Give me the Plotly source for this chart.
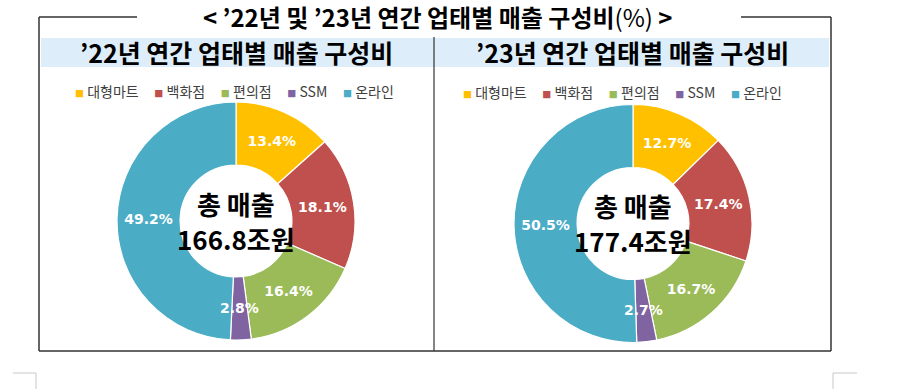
import math
import plotly.graph_objects as go

# ---- data ----
categories = ["대형마트", "백화점", "편의점", "SSM", "온라인"]
share_2022 = [13.4, 18.1, 16.4, 2.8, 49.2]
share_2023 = [12.7, 17.4, 16.7, 2.7, 50.5]
totals = [166.8, 177.4]
panel_titles = ["’22년 연간 업태별 매출 구성비", "’23년 연간 업태별 매출 구성비"]
main_title = "’22년 및 ’23년 연간 업태별 매출 구성비"
colors = ["#FFC000", "#C0504D", "#9BBB59", "#8064A2", "#4BACC6"]

W, H = 899, 389
KR = "Noto Sans CJK KR"
HOLE = 0.47
SMALL = 5.0  # slices below this share get a label placed on the ring middle


def px(x):
    return x / W


def py(y):
    return 1 - y / H


fig = go.Figure()
annotations = []


def text(x, y, s, size, color="black", family=KR):
    annotations.append(dict(x=px(x), y=py(y), xref="paper", yref="paper",
                            text=s, showarrow=False, xanchor="center", yanchor="middle",
                            font=dict(family=family, size=size, color=color)))


centers = [(236, 221), (633, 223.5)]
R = 119
for (cx, cy), vals in zip(centers, [share_2022, share_2023]):
    dom = dict(x=[px(cx - R), px(cx + R)], y=[py(cy + R), py(cy - R)])
    fig.add_trace(go.Pie(
        labels=categories, values=vals,
        textinfo="none",
        hole=HOLE, sort=False, direction="clockwise", rotation=0,
        marker=dict(colors=colors, line=dict(color="white", width=1.2)),
        domain=dom, showlegend=False, hoverinfo="skip",
    ))
    fig.add_trace(go.Pie(
        labels=categories, values=vals,
        text=[f"{v}%" if v >= SMALL else "" for v in vals],
        textinfo="text", textposition="inside",
        insidetextorientation="horizontal",
        textfont=dict(family="DejaVu Sans", size=14, color="white", weight="bold"),
        hole=HOLE, sort=False, direction="clockwise", rotation=0,
        marker=dict(colors=["rgba(0,0,0,0)"] * len(vals), line=dict(width=0)),
        domain=dom, showlegend=False, hoverinfo="skip",
    ))
    # small slice labels: on the middle of the ring, drawn over neighbours
    total = sum(vals)
    cum = 0.0
    rmid = R * (1 + HOLE) / 2
    for v in vals:
        if v < SMALL:
            ang = 2 * math.pi * (cum + v / 2) / total
            text(cx + rmid * math.sin(ang), cy - rmid * math.cos(ang),
                 f"<b>{v}%</b>", 14, color="white", family="DejaVu Sans")
        cum += v

shapes = []


def line(x0, y0, x1, y1, color="#333333", width=1.5):
    shapes.append(dict(type="line", xref="paper", yref="paper",
                       x0=px(x0), y0=py(y0), x1=px(x1), y1=py(y1),
                       line=dict(color=color, width=width)))


shapes.append(dict(type="rect", xref="paper", yref="paper",
                   x0=px(41), x1=px(829), y0=py(67), y1=py(38),
                   fillcolor="#DDEDF9", line=dict(width=0), layer="below"))
line(39, 17, 137, 17)
line(741, 17, 831, 17)
line(39, 17, 39, 351)
line(831, 17, 831, 351)
line(39, 351, 831, 351)
line(434, 37, 434, 351, width=1.2)
line(13, 373, 36, 373, color="#C8C8C8", width=1)
line(36, 373, 36, 389, color="#C8C8C8", width=1)
line(833, 373, 857, 373, color="#C8C8C8", width=1)
line(833, 373, 833, 389, color="#C8C8C8", width=1)

text(438, 17, f"<b>&lt; {main_title}</b>(%)<b> &gt;</b>", 24)
text(236, 52, f"<b>{panel_titles[0]}</b>", 25)
text(632, 52, f"<b>{panel_titles[1]}</b>", 25)

legend_html = "&nbsp;&nbsp;&nbsp;&nbsp;&nbsp;".join(
    f"<span style='color:{c};font-size:9px'>■</span>&nbsp;{cat}"
    for cat, c in zip(categories, colors)
)
text(235, 91, legend_html, 14, color="#404040")
text(622, 92, legend_html, 14, color="#404040")

for (cx, cy), tot in zip(centers, totals):
    text(cx, cy - 18, "<b>총 매출</b>", 26)
    text(cx, cy + 17, f"<b>{tot}조원</b>", 26)

fig.update_layout(
    width=W, height=H,
    margin=dict(l=0, r=0, t=0, b=0),
    paper_bgcolor="white", plot_bgcolor="white",
    shapes=shapes, annotations=annotations,
    uniformtext=dict(minsize=14, mode="show"),
)

fig.write_html("out.html", config={"displayModeBar": False},
               post_script="document.body.style.margin='0';")
